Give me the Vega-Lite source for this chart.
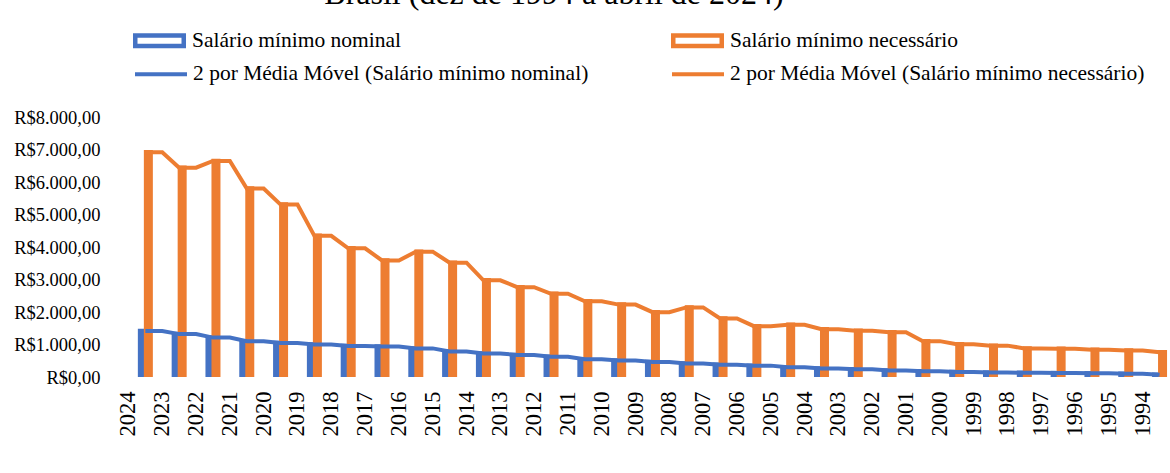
{
 "$schema": "https://vega.github.io/schema/vega-lite/v6.json",
 "width": 1048,
 "height": 260,
 "autosize": {"type": "none"},
 "padding": {"left": 120, "top": 117, "right": 2, "bottom": 96},
 "background": "white",
 "config": {"font": "Liberation Serif, Times New Roman, Tinos, DejaVu Serif, serif", "view": {"stroke": null}},
 "title": {"text": "Brasil (dez de 1994 a abril de 2024)", "orient": "top", "anchor": "middle", "frame": "group", "fontSize": 32, "fontWeight": "normal", "color": "black", "baseline": "alphabetic", "offset": -22, "dx": -90},
 "datasets": {
  "barras": [
   {"posicao":"v2024","Salário mínimo nominal":1412,"Salário mínimo necessário":6913},
   {"posicao":"v2023","Salário mínimo nominal":1320,"Salário mínimo necessário":6440},
   {"posicao":"v2022","Salário mínimo nominal":1212,"Salário mínimo necessário":6648},
   {"posicao":"v2021","Salário mínimo nominal":1100,"Salário mínimo necessário":5801},
   {"posicao":"v2020","Salário mínimo nominal":1045,"Salário mínimo necessário":5305},
   {"posicao":"v2019","Salário mínimo nominal":998,"Salário mínimo necessário":4343},
   {"posicao":"v2018","Salário mínimo nominal":954,"Salário mínimo necessário":3961},
   {"posicao":"v2017","Salário mínimo nominal":937,"Salário mínimo necessário":3585},
   {"posicao":"v2016","Salário mínimo nominal":880,"Salário mínimo necessário":3856},
   {"posicao":"v2015","Salário mínimo nominal":788,"Salário mínimo necessário":3519},
   {"posicao":"v2014","Salário mínimo nominal":724,"Salário mínimo necessário":2976},
   {"posicao":"v2013","Salário mínimo nominal":678,"Salário mínimo necessário":2765},
   {"posicao":"v2012","Salário mínimo nominal":622,"Salário mínimo necessário":2561},
   {"posicao":"v2011","Salário mínimo nominal":545,"Salário mínimo necessário":2329},
   {"posicao":"v2010","Salário mínimo nominal":510,"Salário mínimo necessário":2228},
   {"posicao":"v2009","Salário mínimo nominal":465,"Salário mínimo necessário":1996},
   {"posicao":"v2008","Salário mínimo nominal":415,"Salário mínimo necessário":2141},
   {"posicao":"v2007","Salário mínimo nominal":380,"Salário mínimo necessário":1803},
   {"posicao":"v2006","Salário mínimo nominal":350,"Salário mínimo necessário":1565},
   {"posicao":"v2005","Salário mínimo nominal":300,"Salário mínimo necessário":1607},
   {"posicao":"v2004","Salário mínimo nominal":260,"Salário mínimo necessário":1469},
   {"posicao":"v2003","Salário mínimo nominal":240,"Salário mínimo necessário":1420},
   {"posicao":"v2002","Salário mínimo nominal":200,"Salário mínimo necessário":1378},
   {"posicao":"v2001","Salário mínimo nominal":180,"Salário mínimo necessário":1103},
   {"posicao":"v2000","Salário mínimo nominal":151,"Salário mínimo necessário":1010},
   {"posicao":"v1999","Salário mínimo nominal":136,"Salário mínimo necessário":965},
   {"posicao":"v1998","Salário mínimo nominal":130,"Salário mínimo necessário":880},
   {"posicao":"v1997","Salário mínimo nominal":120,"Salário mínimo necessário":869},
   {"posicao":"v1996","Salário mínimo nominal":112,"Salário mínimo necessário":835},
   {"posicao":"v1995","Salário mínimo nominal":100,"Salário mínimo necessário":815},
   {"posicao":"v1994","Salário mínimo nominal":70,"Salário mínimo necessário":760}
  ],
  "medias": [
   {"posicao":"v2024","2 por Média Móvel (Salário mínimo nominal)":1412,"2 por Média Móvel (Salário mínimo necessário)":6913},
   {"posicao":"2023","2 por Média Móvel (Salário mínimo nominal)":1412,"2 por Média Móvel (Salário mínimo necessário)":6913},
   {"posicao":"v2023","2 por Média Móvel (Salário mínimo nominal)":1320,"2 por Média Móvel (Salário mínimo necessário)":6440},
   {"posicao":"2022","2 por Média Móvel (Salário mínimo nominal)":1320,"2 por Média Móvel (Salário mínimo necessário)":6440},
   {"posicao":"v2022","2 por Média Móvel (Salário mínimo nominal)":1212,"2 por Média Móvel (Salário mínimo necessário)":6648},
   {"posicao":"2021","2 por Média Móvel (Salário mínimo nominal)":1212,"2 por Média Móvel (Salário mínimo necessário)":6648},
   {"posicao":"v2021","2 por Média Móvel (Salário mínimo nominal)":1100,"2 por Média Móvel (Salário mínimo necessário)":5801},
   {"posicao":"2020","2 por Média Móvel (Salário mínimo nominal)":1100,"2 por Média Móvel (Salário mínimo necessário)":5801},
   {"posicao":"v2020","2 por Média Móvel (Salário mínimo nominal)":1045,"2 por Média Móvel (Salário mínimo necessário)":5305},
   {"posicao":"2019","2 por Média Móvel (Salário mínimo nominal)":1045,"2 por Média Móvel (Salário mínimo necessário)":5305},
   {"posicao":"v2019","2 por Média Móvel (Salário mínimo nominal)":998,"2 por Média Móvel (Salário mínimo necessário)":4343},
   {"posicao":"2018","2 por Média Móvel (Salário mínimo nominal)":998,"2 por Média Móvel (Salário mínimo necessário)":4343},
   {"posicao":"v2018","2 por Média Móvel (Salário mínimo nominal)":954,"2 por Média Móvel (Salário mínimo necessário)":3961},
   {"posicao":"2017","2 por Média Móvel (Salário mínimo nominal)":954,"2 por Média Móvel (Salário mínimo necessário)":3961},
   {"posicao":"v2017","2 por Média Móvel (Salário mínimo nominal)":937,"2 por Média Móvel (Salário mínimo necessário)":3585},
   {"posicao":"2016","2 por Média Móvel (Salário mínimo nominal)":937,"2 por Média Móvel (Salário mínimo necessário)":3585},
   {"posicao":"v2016","2 por Média Móvel (Salário mínimo nominal)":880,"2 por Média Móvel (Salário mínimo necessário)":3856},
   {"posicao":"2015","2 por Média Móvel (Salário mínimo nominal)":880,"2 por Média Móvel (Salário mínimo necessário)":3856},
   {"posicao":"v2015","2 por Média Móvel (Salário mínimo nominal)":788,"2 por Média Móvel (Salário mínimo necessário)":3519},
   {"posicao":"2014","2 por Média Móvel (Salário mínimo nominal)":788,"2 por Média Móvel (Salário mínimo necessário)":3519},
   {"posicao":"v2014","2 por Média Móvel (Salário mínimo nominal)":724,"2 por Média Móvel (Salário mínimo necessário)":2976},
   {"posicao":"2013","2 por Média Móvel (Salário mínimo nominal)":724,"2 por Média Móvel (Salário mínimo necessário)":2976},
   {"posicao":"v2013","2 por Média Móvel (Salário mínimo nominal)":678,"2 por Média Móvel (Salário mínimo necessário)":2765},
   {"posicao":"2012","2 por Média Móvel (Salário mínimo nominal)":678,"2 por Média Móvel (Salário mínimo necessário)":2765},
   {"posicao":"v2012","2 por Média Móvel (Salário mínimo nominal)":622,"2 por Média Móvel (Salário mínimo necessário)":2561},
   {"posicao":"2011","2 por Média Móvel (Salário mínimo nominal)":622,"2 por Média Móvel (Salário mínimo necessário)":2561},
   {"posicao":"v2011","2 por Média Móvel (Salário mínimo nominal)":545,"2 por Média Móvel (Salário mínimo necessário)":2329},
   {"posicao":"2010","2 por Média Móvel (Salário mínimo nominal)":545,"2 por Média Móvel (Salário mínimo necessário)":2329},
   {"posicao":"v2010","2 por Média Móvel (Salário mínimo nominal)":510,"2 por Média Móvel (Salário mínimo necessário)":2228},
   {"posicao":"2009","2 por Média Móvel (Salário mínimo nominal)":510,"2 por Média Móvel (Salário mínimo necessário)":2228},
   {"posicao":"v2009","2 por Média Móvel (Salário mínimo nominal)":465,"2 por Média Móvel (Salário mínimo necessário)":1996},
   {"posicao":"2008","2 por Média Móvel (Salário mínimo nominal)":465,"2 por Média Móvel (Salário mínimo necessário)":1996},
   {"posicao":"v2008","2 por Média Móvel (Salário mínimo nominal)":415,"2 por Média Móvel (Salário mínimo necessário)":2141},
   {"posicao":"2007","2 por Média Móvel (Salário mínimo nominal)":415,"2 por Média Móvel (Salário mínimo necessário)":2141},
   {"posicao":"v2007","2 por Média Móvel (Salário mínimo nominal)":380,"2 por Média Móvel (Salário mínimo necessário)":1803},
   {"posicao":"2006","2 por Média Móvel (Salário mínimo nominal)":380,"2 por Média Móvel (Salário mínimo necessário)":1803},
   {"posicao":"v2006","2 por Média Móvel (Salário mínimo nominal)":350,"2 por Média Móvel (Salário mínimo necessário)":1565},
   {"posicao":"2005","2 por Média Móvel (Salário mínimo nominal)":350,"2 por Média Móvel (Salário mínimo necessário)":1565},
   {"posicao":"v2005","2 por Média Móvel (Salário mínimo nominal)":300,"2 por Média Móvel (Salário mínimo necessário)":1607},
   {"posicao":"2004","2 por Média Móvel (Salário mínimo nominal)":300,"2 por Média Móvel (Salário mínimo necessário)":1607},
   {"posicao":"v2004","2 por Média Móvel (Salário mínimo nominal)":260,"2 por Média Móvel (Salário mínimo necessário)":1469},
   {"posicao":"2003","2 por Média Móvel (Salário mínimo nominal)":260,"2 por Média Móvel (Salário mínimo necessário)":1469},
   {"posicao":"v2003","2 por Média Móvel (Salário mínimo nominal)":240,"2 por Média Móvel (Salário mínimo necessário)":1420},
   {"posicao":"2002","2 por Média Móvel (Salário mínimo nominal)":240,"2 por Média Móvel (Salário mínimo necessário)":1420},
   {"posicao":"v2002","2 por Média Móvel (Salário mínimo nominal)":200,"2 por Média Móvel (Salário mínimo necessário)":1378},
   {"posicao":"2001","2 por Média Móvel (Salário mínimo nominal)":200,"2 por Média Móvel (Salário mínimo necessário)":1378},
   {"posicao":"v2001","2 por Média Móvel (Salário mínimo nominal)":180,"2 por Média Móvel (Salário mínimo necessário)":1103},
   {"posicao":"2000","2 por Média Móvel (Salário mínimo nominal)":180,"2 por Média Móvel (Salário mínimo necessário)":1103},
   {"posicao":"v2000","2 por Média Móvel (Salário mínimo nominal)":151,"2 por Média Móvel (Salário mínimo necessário)":1010},
   {"posicao":"1999","2 por Média Móvel (Salário mínimo nominal)":151,"2 por Média Móvel (Salário mínimo necessário)":1010},
   {"posicao":"v1999","2 por Média Móvel (Salário mínimo nominal)":136,"2 por Média Móvel (Salário mínimo necessário)":965},
   {"posicao":"1998","2 por Média Móvel (Salário mínimo nominal)":136,"2 por Média Móvel (Salário mínimo necessário)":965},
   {"posicao":"v1998","2 por Média Móvel (Salário mínimo nominal)":130,"2 por Média Móvel (Salário mínimo necessário)":880},
   {"posicao":"1997","2 por Média Móvel (Salário mínimo nominal)":130,"2 por Média Móvel (Salário mínimo necessário)":880},
   {"posicao":"v1997","2 por Média Móvel (Salário mínimo nominal)":120,"2 por Média Móvel (Salário mínimo necessário)":869},
   {"posicao":"1996","2 por Média Móvel (Salário mínimo nominal)":120,"2 por Média Móvel (Salário mínimo necessário)":869},
   {"posicao":"v1996","2 por Média Móvel (Salário mínimo nominal)":112,"2 por Média Móvel (Salário mínimo necessário)":835},
   {"posicao":"1995","2 por Média Móvel (Salário mínimo nominal)":112,"2 por Média Móvel (Salário mínimo necessário)":835},
   {"posicao":"v1995","2 por Média Móvel (Salário mínimo nominal)":100,"2 por Média Móvel (Salário mínimo necessário)":815},
   {"posicao":"1994","2 por Média Móvel (Salário mínimo nominal)":100,"2 por Média Móvel (Salário mínimo necessário)":815},
   {"posicao":"v1994","2 por Média Móvel (Salário mínimo nominal)":70,"2 por Média Móvel (Salário mínimo necessário)":760}
  ]
 },
 "encoding": {
  "x": {"field": "posicao", "type": "nominal",
   "scale": {"domain": ["2024","v2024","2023","v2023","2022","v2022","2021","v2021","2020","v2020","2019","v2019","2018","v2018","2017","v2017","2016","v2016","2015","v2015","2014","v2014","2013","v2013","2012","v2012","2011","v2011","2010","v2010","2009","v2009","2008","v2008","2007","v2007","2006","v2006","2005","v2005","2004","v2004","2003","v2003","2002","v2002","2001","v2001","2000","v2000","1999","v1999","1998","v1998","1997","v1997","1996","v1996","1995","v1995","1994","v1994"], "paddingInner": 0, "paddingOuter": 0},
   "axis": {"title": null, "labelAngle": -90, "labelExpr": "indexof(datum.label, 'v') == 0 ? '' : datum.label", "labelFontSize": 22.5, "labelColor": "black", "labelPadding": 14, "ticks": false, "tickSize": 0, "domain": false, "grid": false, "labelOverlap": false}},
  "y": {"field": "valor", "type": "quantitative", "stack": null,
   "scale": {"domain": [0, 8000], "nice": false},
   "axis": {"title": null, "values": [0,1000,2000,3000,4000,5000,6000,7000,8000], "labelExpr": "'R$' + replace(replace(replace(format(datum.value, ',.2f'), ',', '_'), '.', ','), '_', '.')", "labelFontSize": 18.5, "labelColor": "black", "labelPadding": 20, "ticks": false, "tickSize": 0, "domain": false, "grid": false, "labelFlush": false, "labelOverlap": false, "labelSeparation": 0}}
 },
 "layer": [
  {
   "data": {"name": "barras"},
   "transform": [{"fold": ["Salário mínimo nominal", "Salário mínimo necessário"], "as": ["serie", "valor"]}],
   "mark": {"type": "bar", "fill": "white", "strokeWidth": 4.5, "clip": true},
   "encoding": {
    "xOffset": {"field": "serie", "type": "nominal", "scale": {"domain": ["Salário mínimo nominal", "Salário mínimo necessário"], "paddingInner": 0.25, "paddingOuter": 0.533}},
    "stroke": {"field": "serie", "type": "nominal",
     "scale": {"domain": ["Salário mínimo nominal", "Salário mínimo necessário"], "range": ["#4472C4", "#ED7D31"]},
     "legend": {"title": null, "orient": "none", "legendX": 13, "legendY": -103, "direction": "horizontal", "columns": 2, "columnPadding": 262, "gridAlign": "each", "symbolType": "M-1,-0.2165H1V0.2165H-1Z", "symbolSize": 2352, "symbolStrokeWidth": 4.5, "labelFontSize": 21.5, "labelColor": "black", "labelOffset": 6, "labelLimit": 800, "padding": 0}}
   }
  },
  {
   "data": {"name": "medias"},
   "transform": [{"fold": ["2 por Média Móvel (Salário mínimo nominal)", "2 por Média Móvel (Salário mínimo necessário)"], "as": ["serie", "valor"]}],
   "mark": {"type": "line", "strokeWidth": 4, "clip": true},
   "encoding": {
    "order": {"value": null},
    "stroke": {"field": "serie", "type": "nominal",
     "scale": {"domain": ["2 por Média Móvel (Salário mínimo nominal)", "2 por Média Móvel (Salário mínimo necessário)"], "range": ["#4472C4", "#ED7D31"]},
     "legend": {"title": null, "orient": "none", "legendX": 13, "legendY": -71, "direction": "horizontal", "columns": 2, "columnPadding": 75, "gridAlign": "each", "symbolType": "stroke", "symbolSize": 2704, "symbolStrokeWidth": 4, "labelFontSize": 21.5, "labelColor": "black", "labelOffset": 4, "labelLimit": 800, "padding": 0}}
   }
  }
 ],
 "resolve": {"scale": {"stroke": "independent"}, "legend": {"stroke": "independent"}}
}
